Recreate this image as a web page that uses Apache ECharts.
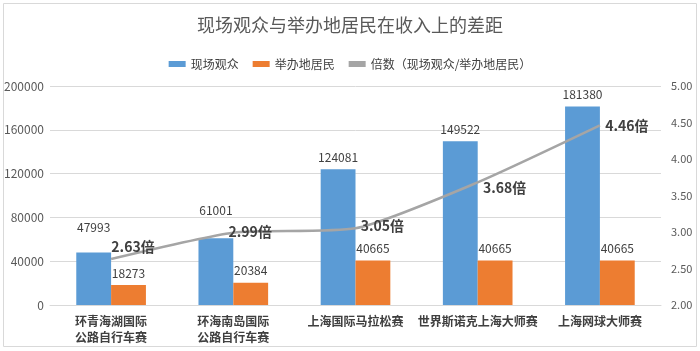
<!DOCTYPE html>
<html><head><meta charset="utf-8">
<script src="https://cdn.jsdelivr.net/npm/echarts@6/dist/echarts.min.js"></script>
<style>html,body{margin:0;padding:0;background:#fff}#c{width:700px;height:351px}</style>
</head><body><div id="c"></div>
<script>
const categories = ['环青海湖国际\n公路自行车赛','环海南岛国际\n公路自行车赛','上海国际马拉松赛','世界斯诺克上海大师赛','上海网球大师赛'];
const audience = [47993, 61001, 124081, 149522, 181380];
const residents = [18273, 20384, 40665, 40665, 40665];
const ratio = [2.63, 2.99, 3.05, 3.68, 4.46];
const leftTicks = {min:0, max:200000, interval:40000};
const rightTicks = {min:2, max:5, interval:0.5};

const font = '"Microsoft YaHei","Noto Sans CJK SC",sans-serif';
const audOffsets = [[0,-13],[0,-16],[0,0],[0,0],[0,0]];
const ratioOffsets = [[-5,-12],[-10,-1],[0,-3],[0,5],[0,0]];

const chart = echarts.init(document.getElementById('c'));
chart.setOption({
  animation:false,
  textStyle:{fontFamily:font},
  graphic:[{type:'rect',shape:{x:3.5,y:3.5,width:693,height:343},style:{fill:'none',stroke:'#D9D9D9',lineWidth:1},silent:true}],
  title:{text:'现场观众与举办地居民在收入上的差距',left:'center',top:11,textStyle:{fontSize:18,fontWeight:'normal',color:'#595959',fontFamily:font}},
  legend:{top:53,left:'center',itemWidth:17,itemHeight:6,itemGap:14,textStyle:{fontSize:12,color:'#404040'},
    data:[{name:'现场观众',icon:'rect'},{name:'举办地居民',icon:'rect'},{name:'倍数（现场观众/举办地居民）',icon:'rect',itemStyle:{color:'#A5A5A5'}}]},
  grid:{left:50,right:39,top:86,bottom:46},
  xAxis:{type:'category',data:categories,axisTick:{show:false},axisLine:{lineStyle:{color:'#D9D9D9'}},
    axisLabel:{color:'#404040',fontSize:12,fontWeight:'bold',lineHeight:16,margin:8,interval:0}},
  yAxis:[
    {type:'value',min:leftTicks.min,max:leftTicks.max,interval:leftTicks.interval,
      axisLabel:{color:'#595959',fontSize:12,margin:6,formatter:v=>String(v)},splitLine:{lineStyle:{color:'#D9D9D9'}},axisLine:{show:false},axisTick:{show:false}},
    {type:'value',min:rightTicks.min,max:rightTicks.max,interval:rightTicks.interval,
      axisLabel:{color:'#595959',fontSize:11,margin:10,formatter:v=>v.toFixed(2)},splitLine:{show:false},axisLine:{show:false},axisTick:{show:false}}
  ],
  series:[
    {name:'现场观众',type:'bar',barGap:'0%',barCategoryGap:'43%',itemStyle:{color:'#5B9BD5'},
      data:audience.map((v,i)=>({value:v,label:{offset:audOffsets[i]}})),
      label:{show:true,position:'top',color:'#404040',fontSize:12,distance:6}},
    {name:'举办地居民',type:'bar',itemStyle:{color:'#ED7D31'},data:residents,
      label:{show:true,position:'top',color:'#404040',fontSize:12,distance:6}},
    {name:'倍数（现场观众/举办地居民）',type:'line',yAxisIndex:1,smooth:0.2,symbol:'circle',symbolSize:0.5,showSymbol:true,
      lineStyle:{color:'#A5A5A5',width:2.5},itemStyle:{color:'#A5A5A5'},
      data:ratio.map((v,i)=>({value:v,label:{offset:ratioOffsets[i]}})),
      label:{show:true,position:'right',distance:5,formatter:p=>p.value.toFixed(2)+'倍',color:'#404040',fontSize:14,fontWeight:'bold'}}
  ]
});
</script></body></html>
